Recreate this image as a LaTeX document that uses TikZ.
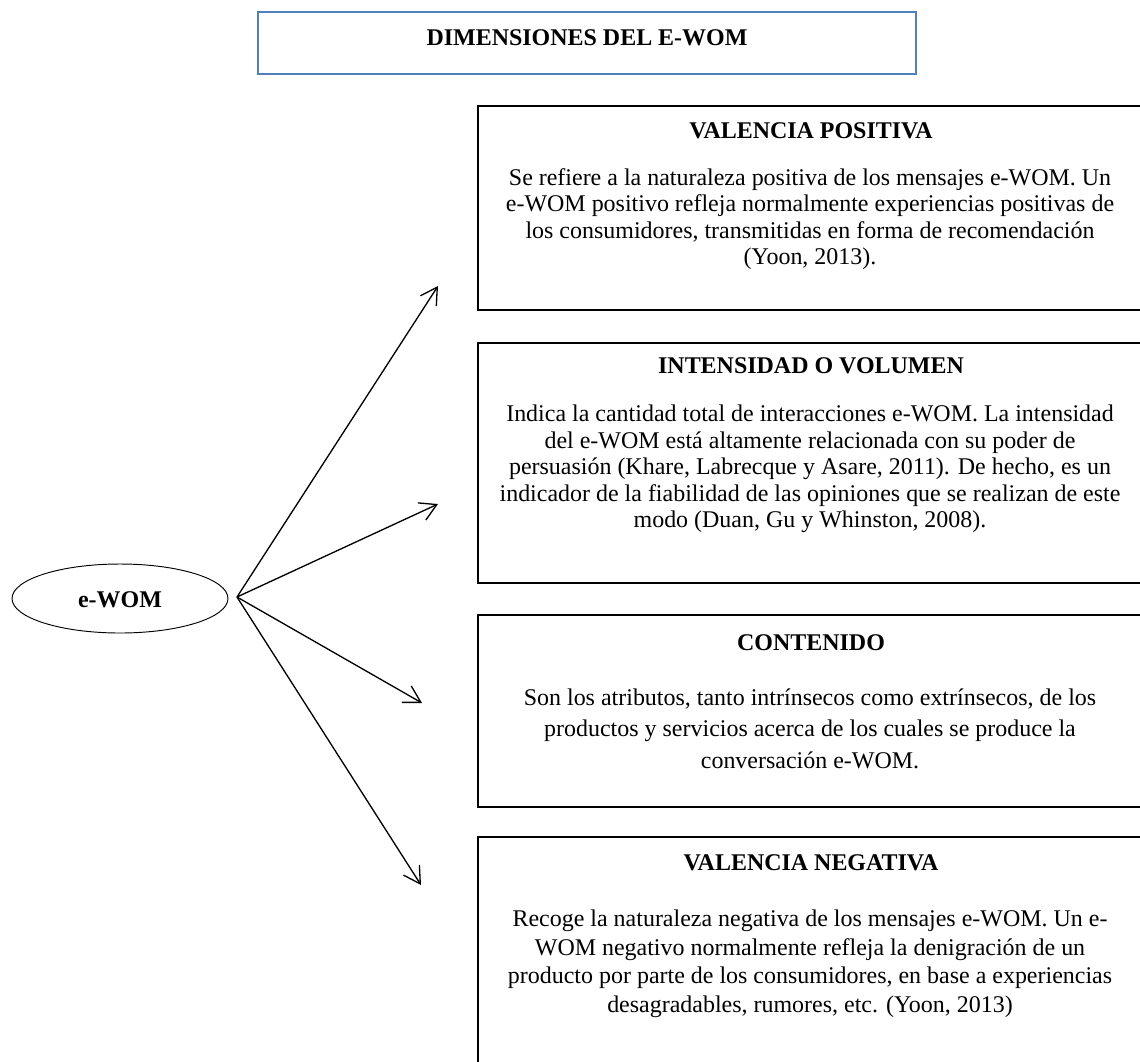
\documentclass[tikz,border=0pt]{standalone}
\usepackage{fontspec}
\setmainfont{Liberation Serif}
\usetikzlibrary{arrows.meta,shapes.geometric}
\definecolor{titleblue}{HTML}{4F81BD}
\tikzset{
  txt/.style={font=\fontsize{12.7}{14.04}\selectfont, inner sep=0pt, align=center, anchor=north},
  txtmid/.style={font=\fontsize{12.7}{15.1}\selectfont, inner sep=0pt, align=center, anchor=north},
  txtwide/.style={font=\fontsize{12.7}{16.7}\selectfont, inner sep=0pt, align=center, anchor=north},
  head/.style={font=\fontsize{12.7}{16.7}\selectfont\bfseries, inner sep=0pt, anchor=base},
  dimbox/.style={draw=black, line width=1pt, inner sep=0pt},
  titlebox/.style={draw=titleblue, line width=1pt, inner sep=0pt},
  arr/.style={line width=0.7pt, -{Straight Barb[length=8.7pt,width=10pt,line width=0.7pt]}},
  ewnode/.style={draw=black, line width=0.5pt, ellipse, inner sep=0pt}
}
\begin{document}
\begin{tikzpicture}[x=0.53pt,y=-0.53pt]
\useasboundingbox (0,0) rectangle (1140,1061);
% title
\node[titlebox, minimum width={658*0.53pt}, minimum height={62*0.53pt}] (title) at (587,43) {};
\node[head] (titletext) at (587,45) {DIMENSIONES DEL E-WOM};
% ellipse
\node[ewnode, minimum width={216*0.53pt}, minimum height={69*0.53pt}] (ew) at (120,598.5) {};
\node[head] (ewtext) at (120,607) {e-WOM};
% boxes
\node[dimbox, minimum width={665*0.53pt}, minimum height={204*0.53pt}] (b1) at (810.5,208) {};
\node[dimbox, minimum width={665*0.53pt}, minimum height={240*0.53pt}] (b2) at (810.5,463) {};
\node[dimbox, minimum width={665*0.53pt}, minimum height={192*0.53pt}] (b3) at (810.5,711) {};
\node[dimbox, minimum width={665*0.53pt}, minimum height={228*0.53pt}] (b4) at (810.5,951) {};
% headings
\node[head] (h1) at (811,138) {VALENCIA POSITIVA};
\node[head] (h2) at (811,373) {INTENSIDAD O VOLUMEN};
\node[head] (h3) at (811,650) {CONTENIDO};
\node[head] (h4) at (811,870) {VALENCIA NEGATIVA};
% bodies
\node[txt] (t1) at (810,166.5) {\strut Se refiere a la naturaleza positiva de los mensajes e-WOM. Un\\
\strut e-WOM positivo refleja normalmente experiencias positivas de\\
\strut los consumidores, transmitidas en forma de recomendación\\
\strut (Yoon, 2013).};
\node[txt] (t2) at (810,403) {\strut Indica la cantidad total de interacciones e-WOM. La intensidad\\
\strut del e-WOM está altamente relacionada con su poder de\\
\strut persuasión (Khare, Labrecque y Asare, 2011). De hecho, es un\\
\strut indicador de la fiabilidad de las opiniones que se realizan de este\\
\strut modo (Duan, Gu y Whinston, 2008).};
\node[txtwide] (t3) at (810,683) {\strut Son los atributos, tanto intrínsecos como extrínsecos, de los\\
\strut productos y servicios acerca de los cuales se produce la\\
\strut conversación e-WOM.};
\node[txtmid] (t4) at (810,906.5) {\strut Recoge la naturaleza negativa de los mensajes e-WOM. Un e-\\
\strut WOM negativo normalmente refleja la denigración de un\\
\strut producto por parte de los consumidores, en base a experiencias\\
\strut desagradables, rumores, etc. (Yoon, 2013)};
% arrows
\coordinate (src) at (237,597);
\coordinate (e1) at (438,286);
\coordinate (e2) at (438,504);
\coordinate (e3) at (422,703);
\coordinate (e4) at (421,885);
\draw[arr] (src) -- (e1);
\draw[arr] (src) -- (e2);
\draw[arr] (src) -- (e3);
\draw[arr] (src) -- (e4);
\end{tikzpicture}
\end{document}
